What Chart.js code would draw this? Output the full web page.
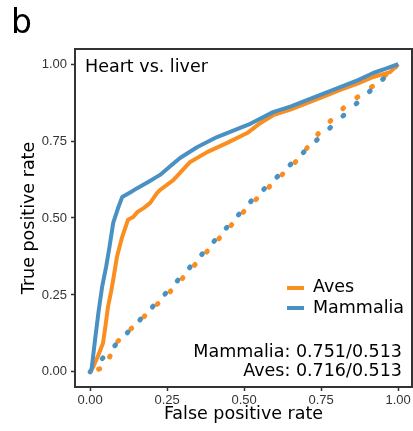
<!DOCTYPE html>
<html>
<head>
<meta charset="utf-8">
<script src="https://cdn.jsdelivr.net/npm/chart.js@4/dist/chart.umd.min.js"></script>
<style>
html,body{margin:0;padding:0;background:#fff;}
#wrap{position:relative;width:413px;height:431px;}
</style>
</head>
<body>
<div id="wrap"><canvas id="c" width="413" height="431"></canvas></div>
<script>
// ---- data ----
const panelLabel = 'b';
const panelTitle = 'Heart vs. liver';
const xAxisTitle = 'False positive rate';
const yAxisTitle = 'True positive rate';
const tickValues = [0, 0.25, 0.5, 0.75, 1];
const seriesNames = ['Aves', 'Mammalia'];
const aucAves = '0.716/0.513';
const aucMammalia = '0.751/0.513';

const fprMammalia = [0, 0.005, 0.016, 0.028, 0.039, 0.052, 0.062, 0.075, 0.09, 0.104, 0.13, 0.153, 0.19, 0.227, 0.26, 0.292, 0.347, 0.412, 0.477, 0.52, 0.594, 0.65, 0.704, 0.76, 0.812, 0.87, 0.919, 0.96, 1.0];
const tprMammalia = [0, 0.01, 0.104, 0.2, 0.276, 0.341, 0.4, 0.484, 0.53, 0.568, 0.583, 0.597, 0.618, 0.64, 0.668, 0.695, 0.73, 0.763, 0.789, 0.806, 0.844, 0.862, 0.883, 0.905, 0.925, 0.948, 0.971, 0.985, 1.0];

const fprAves = [0, 0.01, 0.025, 0.042, 0.05, 0.058, 0.068, 0.075, 0.087, 0.104, 0.123, 0.14, 0.153, 0.175, 0.195, 0.217, 0.227, 0.27, 0.325, 0.38, 0.445, 0.51, 0.552, 0.594, 0.65, 0.704, 0.76, 0.812, 0.87, 0.919, 0.974, 1.0];
const tprAves = [0, 0.016, 0.05, 0.094, 0.15, 0.211, 0.26, 0.299, 0.373, 0.438, 0.494, 0.503, 0.519, 0.533, 0.549, 0.581, 0.591, 0.623, 0.682, 0.714, 0.744, 0.776, 0.808, 0.834, 0.852, 0.873, 0.895, 0.916, 0.937, 0.958, 0.974, 1.0];

const fprRandomMammalia = [0, 0.045, 0.25, 0.526, 0.698, 0.828, 0.958, 1.0];
const tprRandomMammalia = [0, 0.049, 0.26, 0.558, 0.718, 0.838, 0.958, 1.0];

const fprRandomAves = [0, 0.05, 0.081, 0.25, 0.513, 0.675, 0.747, 0.83, 0.92, 1.0];
const tprRandomAves = [0, 0.016, 0.091, 0.25, 0.536, 0.69, 0.782, 0.865, 0.93, 1.0];

// ---- styling ----
const colAves = '#FA8E20';
const colMammalia = '#4A91C3';
const textFont = 'DejaVu Sans';
const tickFont = 'Liberation Sans';

const pts = (xs, ys) => xs.map((x, i) => ({x: x, y: ys[i]}));

const framePlugin = {
  id: 'frame',
  afterDatasetsDraw(chart) {
    const a = chart.chartArea, ctx = chart.ctx;
    ctx.save();
    ctx.strokeStyle = '#333';
    ctx.lineWidth = 2;
    ctx.strokeRect(a.left, a.top, a.right - a.left, a.bottom - a.top);
    ctx.restore();
  },
  afterDraw(chart) {
    const ctx = chart.ctx;
    ctx.save();
    ctx.fillStyle = '#000';
    ctx.textBaseline = 'alphabetic';
    ctx.font = '33px "' + textFont + '"';
    ctx.textAlign = 'left';
    ctx.fillText(panelLabel, 11, 33);
    ctx.font = '17.5px "' + textFont + '"';
    ctx.fillText(panelTitle, 85, 72);
    // legend
    const legendItems = [
      {name: seriesNames[0], color: colAves, y: 288, base: 292},
      {name: seriesNames[1], color: colMammalia, y: 308, base: 313}
    ];
    legendItems.forEach(it => {
      ctx.strokeStyle = it.color;
      ctx.lineWidth = 4;
      ctx.lineCap = 'butt';
      ctx.beginPath();
      ctx.moveTo(287, it.y);
      ctx.lineTo(304, it.y);
      ctx.stroke();
      ctx.fillText(it.name, 313, it.base);
    });
    ctx.textAlign = 'right';
    ctx.fillText(seriesNames[1] + ': ' + aucMammalia, 402, 357);
    ctx.fillText(seriesNames[0] + ': ' + aucAves, 402, 376);
    ctx.restore();
  }
};

const setTicks = s => { s.ticks = tickValues.map(v => ({value: v})); };

new Chart(document.getElementById('c'), {
  type: 'line',
  data: {
    datasets: [
      {label: seriesNames[1], data: pts(fprMammalia, tprMammalia), borderColor: colMammalia, borderWidth: 4, pointRadius: 0, tension: 0, fill: false, borderJoinStyle: 'round', order: 1},
      {label: seriesNames[0], data: pts(fprAves, tprAves), borderColor: colAves, borderWidth: 4, pointRadius: 0, tension: 0, fill: false, borderJoinStyle: 'round', order: 2},
      {label: seriesNames[1] + ' random', data: pts(fprRandomMammalia, tprRandomMammalia), borderColor: colMammalia, borderWidth: 5, borderDash: [1, 17], borderDashOffset: 0, borderCapStyle: 'round', pointRadius: 0, tension: 0, fill: false, order: 3},
      {label: seriesNames[0] + ' random', data: pts(fprRandomAves, tprRandomAves), borderColor: colAves, borderWidth: 5, borderDash: [1, 17], borderDashOffset: 9, borderCapStyle: 'round', pointRadius: 0, tension: 0, fill: false, order: 4}
    ]
  },
  options: {
    responsive: false,
    animation: false,
    devicePixelRatio: 1,
    layout: {padding: {left: 10, top: 49, right: 1, bottom: 4}},
    plugins: {legend: {display: false}, tooltip: {enabled: false}, title: {display: false}},
    scales: {
      x: {
        type: 'linear', min: -0.049, max: 1.045,
        afterBuildTicks: setTicks,
        afterFit: s => { s.height = 40; },
        border: {display: false},
        grid: {display: true, drawOnChartArea: false, drawTicks: true, tickLength: 4, tickColor: '#333', tickWidth: 1.5},
        ticks: {callback: v => v.toFixed(2), font: {family: tickFont, size: 13}, color: '#333', padding: 2, maxRotation: 0, autoSkip: false},
        title: {display: true, text: xAxisTitle, font: {family: textFont, size: 17.5}, color: '#000', padding: {top: 0, bottom: 2}}
      },
      y: {
        type: 'linear', min: -0.049, max: 1.049,
        afterBuildTicks: setTicks,
        afterFit: s => { s.width = 65; },
        border: {display: false},
        grid: {display: true, drawOnChartArea: false, drawTicks: true, tickLength: 4, tickColor: '#333', tickWidth: 1.5},
        ticks: {callback: v => v.toFixed(2), font: {family: tickFont, size: 13}, color: '#333', padding: 4, autoSkip: false},
        title: {display: true, text: yAxisTitle, font: {family: textFont, size: 17.5}, color: '#000', padding: {top: 9, bottom: 0}}
      }
    }
  },
  plugins: [framePlugin]
});
</script>
</body>
</html>
